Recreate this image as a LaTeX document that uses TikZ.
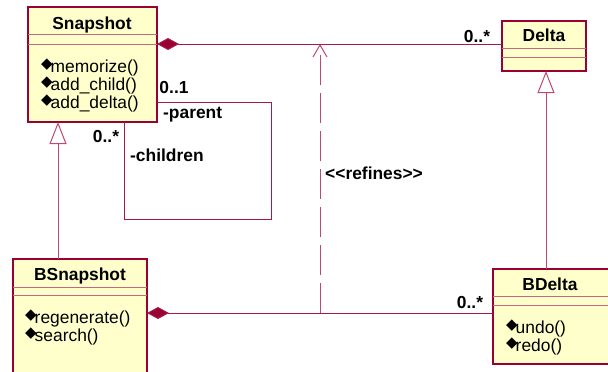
\documentclass[tikz,border=0pt]{standalone}
\usepackage{fontspec}
\setmainfont{Liberation Sans}
\newfontfamily\symfont{DejaVu Sans}
\usetikzlibrary{arrows.meta}
\definecolor{umlborder}{HTML}{990033}
\definecolor{umlline}{HTML}{A3194A}
\definecolor{umlsep}{HTML}{C46A80}
\definecolor{umlfill}{HTML}{FFFFCC}
\definecolor{umlgen}{HTML}{C04870}
\newcommand{\opmark}{{\symfont\fontsize{15}{15}\selectfont\raisebox{3.5pt}{◆}}\kern-2pt}
\begin{document}
\begin{tikzpicture}[x=1pt,y=-1pt,
  classbox/.style={draw=umlborder, fill=umlfill, line width=1.2pt, anchor=north west, inner sep=0pt, outer sep=0pt},
  sepline/.style={draw=umlsep, line width=1pt},
  cname/.style={font=\bfseries\fontsize{17.4}{20}\selectfont, anchor=base, inner sep=0pt},
  op/.style={font=\fontsize{17.4}{20}\selectfont, anchor=base west, inner sep=0pt},
  lbl/.style={font=\bfseries\fontsize{17.4}{20}\selectfont, inner sep=0pt},
  assoc/.style={draw=umlline, line width=1pt},
  comp/.style={assoc, {Diamond[length=22pt,width=12pt,fill=umlborder]}-},
  gen/.style={draw=umlgen, line width=1pt, -{Triangle[open,length=22pt,width=17pt,fill=white]}},
  refine/.style={draw=umlgen, line width=1pt, dash pattern=on 30pt off 8pt, -{Straight Barb[length=12pt,width=14pt]}},
]
\useasboundingbox[fill=white] (0,0) rectangle (608,372);

% Snapshot
\node[classbox, minimum width=129pt, minimum height=115pt] (snap) at (28,7) {};
\draw[sepline] (28,34) -- (157,34);
\draw[sepline] (28,44) -- (157,44);
\node[cname] (snapname) at (92,29) {Snapshot};
\node[op] (op1) at (41,72) {\opmark memorize()};
\node[op] (op2) at (41,90) {\opmark add\_child()};
\node[op] (op3) at (41,108) {\opmark add\_delta()};

% Delta
\node[classbox, minimum width=84pt, minimum height=50pt] (delta) at (502,21) {};
\draw[sepline] (502,48) -- (586,48);
\draw[sepline] (502,57) -- (586,57);
\node[cname] (deltaname) at (544,41) {Delta};

% BSnapshot
\node[classbox, minimum width=134pt, minimum height=126pt] (bsnap) at (13,259) {};
\draw[sepline] (13,287) -- (147,287);
\draw[sepline] (13,295) -- (147,295);
\node[cname] (bsnapname) at (80,280) {BSnapshot};
\node[op] (op4) at (25,323) {\opmark regenerate()};
\node[op] (op5) at (25,341) {\opmark search()};

% BDelta
\node[classbox, minimum width=132pt, minimum height=95pt] (bdelta) at (493,269) {};
\draw[sepline] (493,296) -- (625,296);
\draw[sepline] (493,305) -- (625,305);
\node[cname] (bdeltaname) at (550,290) {BDelta};
\node[op] (op6) at (506,333) {\opmark undo()};
\node[op] (op7) at (506,351) {\opmark redo()};

% compositions
\draw[comp] (snap.east |- 0,44) -- (delta.west |- 0,44);
\draw[comp] (bsnap.east |- 0,313) -- (bdelta.west |- 0,313);
\node[lbl] (m1) at (477,37) {0..*};
\node[lbl] (m2) at (470,303) {0..*};

% self association
\draw[assoc] (snap.east |- 0,102) -- (271,102) -- (271,219) -- (124,219) -- (snap.south -| 124,0);
\node[lbl] (m3) at (174,88) {0..1};
\node[lbl, anchor=west] (r1) at (163,115) {-parent};
\node[lbl] (m4) at (106,137) {0..*};
\node[lbl, anchor=west] (r2) at (130,155) {-children};

% generalizations
\draw[gen] (bsnap.north -| 58,0) -- (snap.south -| 58,0);
\draw[gen] (bdelta.north -| 546,0) -- (delta.south -| 546,0);

% refines
\coordinate (rtop) at (320,44);
\coordinate (rbot) at (320,313);
\draw[refine] (rbot) -- (rtop);
\node[lbl, anchor=west] (ref) at (325,173) {{<}{<}refines{>}{>}};
\end{tikzpicture}
\end{document}
